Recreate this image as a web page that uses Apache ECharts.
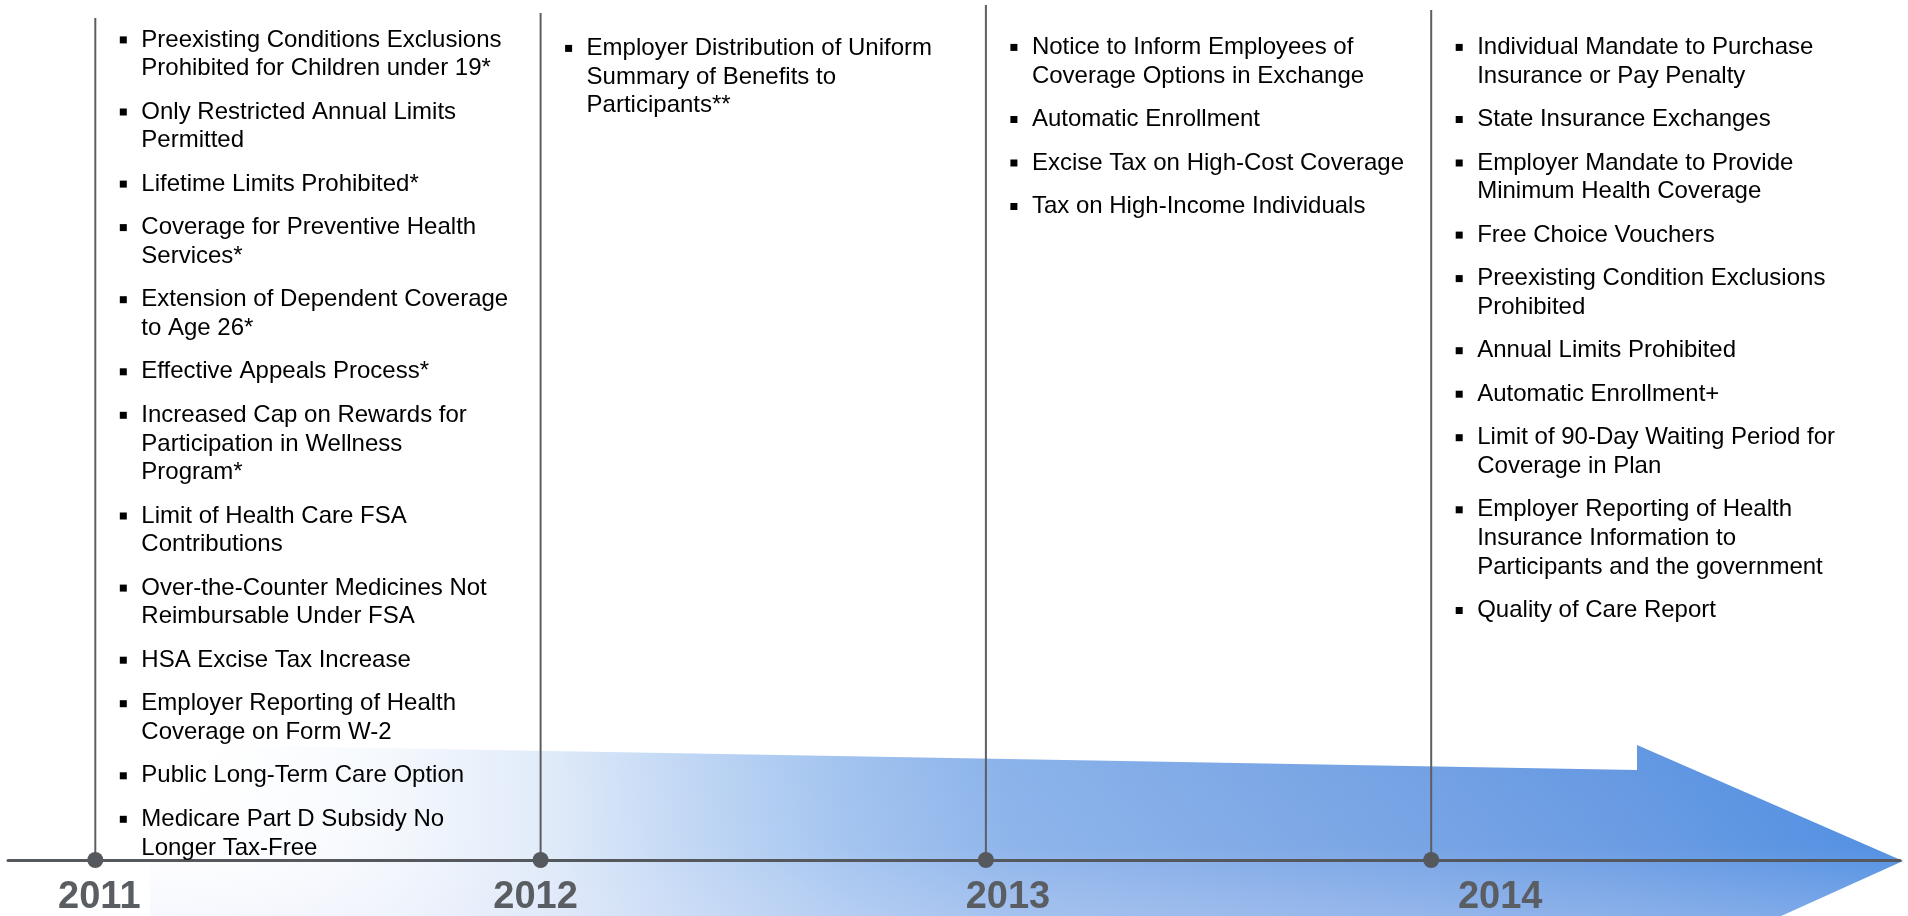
<!DOCTYPE html>
<html>
<head>
<meta charset="utf-8">
<script src="https://cdn.jsdelivr.net/npm/echarts@6/dist/echarts.min.js"></script>
<style>
html,body{margin:0;padding:0;background:#ffffff;}
#c{width:1908px;height:916px;}
</style>
</head>
<body>
<div id="c"></div>
<script>
// ---------------- data ----------------
const years = ['2011', '2012', '2013', '2014'];
const yearValues = [2011, 2012, 2013, 2014];

const provisions2011 = [
  'Preexisting Conditions Exclusions\nProhibited for Children under 19*',
  'Only Restricted Annual Limits\nPermitted',
  'Lifetime Limits Prohibited*',
  'Coverage for Preventive Health\nServices*',
  'Extension of Dependent Coverage\nto Age 26*',
  'Effective Appeals Process*',
  'Increased Cap on Rewards for\nParticipation in Wellness\nProgram*',
  'Limit of Health Care FSA\nContributions',
  'Over-the-Counter Medicines Not\nReimbursable Under FSA',
  'HSA Excise Tax Increase',
  'Employer Reporting of Health\nCoverage on Form W-2',
  'Public Long-Term Care Option',
  'Medicare Part D Subsidy No\nLonger Tax-Free'
];
const provisions2012 = [
  'Employer Distribution of Uniform\nSummary of Benefits to\nParticipants**'
];
const provisions2013 = [
  'Notice to Inform Employees of\nCoverage Options in Exchange',
  'Automatic Enrollment',
  'Excise Tax on High-Cost Coverage',
  'Tax on High-Income Individuals'
];
const provisions2014 = [
  'Individual Mandate to Purchase\nInsurance or Pay Penalty',
  'State Insurance Exchanges',
  'Employer Mandate to Provide\nMinimum Health Coverage',
  'Free Choice Vouchers',
  'Preexisting Condition Exclusions\nProhibited',
  'Annual Limits Prohibited',
  'Automatic Enrollment+',
  'Limit of 90-Day Waiting Period for\nCoverage in Plan',
  'Employer Reporting of Health\nInsurance Information to\nParticipants and the government',
  'Quality of Care Report'
];
const provisionsByYear = [provisions2011, provisions2012, provisions2013, provisions2014];

// ---------------- layout / style ----------------
const FONT = '"Liberation Sans", Arial, Helvetica, sans-serif';
const LINE_H = 28.6;
const ITEM_GAP = 43.5;
const TIMELINE_Y = 860;
const firstBaseline = [48.5, 57, 56, 56];
const lineTop = [18, 13, 5, 10];
const labelDx = [4, -5, 22, 69];

const chart = echarts.init(document.getElementById('c'), null, {renderer: 'canvas'});

function renderItem(params, api) {
  const i = params.dataIndex;
  const yr = api.value(0);
  const base = api.coord([yr, TIMELINE_Y]);
  const x = base[0];
  const yb = base[1];
  const top = api.coord([yr, lineTop[i]])[1];
  const children = [];
  children.push({
    type: 'line',
    shape: {x1: x, y1: top, x2: x, y2: yb},
    style: {stroke: '#5d5e62', lineWidth: 2}
  });
  let bl = firstBaseline[i];
  provisionsByYear[i].forEach(function (item, k) {
    if (k > 0) bl += ITEM_GAP;
    const lines = item.split('\n');
    const capMid = api.coord([yr, bl - 8.6])[1];
    children.push({
      type: 'rect',
      shape: {x: x + 24.5, y: capMid - 3.5, width: 7, height: 7},
      style: {fill: '#000000'}
    });
    lines.forEach(function (ln, j) {
      if (j > 0) bl += LINE_H;
      const cy = api.coord([yr, bl - 8.6])[1];
      children.push({
        type: 'text',
        x: x + 46,
        y: cy,
        style: {text: ln, font: '24px ' + FONT, fill: '#000000', align: 'left', verticalAlign: 'middle'}
      });
    });
  });
  children.push({
    type: 'circle',
    shape: {cx: x, cy: yb, r: 8},
    style: {fill: '#55585c'}
  });
  children.push({
    type: 'text',
    x: x + labelDx[i],
    y: yb + 37.5,
    style: {text: years[i], font: 'bold 38px ' + FONT, fill: '#5a5e62', align: 'center', verticalAlign: 'middle'}
  });
  return {type: 'group', children: children};
}

const arrowPts = [[150, 744], [1637, 770], [1637, 745], [1903, 861], [1781, 916], [1760, 930], [150, 930]];

const option = {
  animation: false,
  backgroundColor: '#ffffff',
  grid: {left: 8, right: 8, top: 0, bottom: 56, containLabel: false},
  xAxis: {
    type: 'value',
    position: 'bottom',
    min: 2010.80395,
    max: 2015.05277,
    z: 3,
    axisLine: {show: true, onZero: false, lineStyle: {color: '#55585c', width: 3}},
    axisTick: {show: false},
    axisLabel: {show: false},
    splitLine: {show: false}
  },
  yAxis: {
    type: 'value',
    min: 0,
    max: TIMELINE_Y,
    inverse: true,
    show: false,
    splitLine: {show: false}
  },
  graphic: {
    elements: [
      {
        type: 'polygon',
        z: -10,
        silent: true,
        shape: {points: arrowPts},
        style: {
          fill: {
            type: 'linear', x: 0, y: 0, x2: 1, y2: 0,
            colorStops: [
              {offset: 0, color: 'rgba(255,255,255,0)'},
              {offset: 0.14, color: '#f4f8fd'},
              {offset: 0.23, color: '#dfeaf9'},
              {offset: 0.31, color: '#bfd6f4'},
              {offset: 0.40, color: '#a0c2ef'},
              {offset: 0.49, color: '#8ab2ea'},
              {offset: 0.66, color: '#79a5e5'},
              {offset: 0.83, color: '#6699e2'},
              {offset: 1, color: '#4a8be1'}
            ]
          }
        }
      },
      {
        type: 'polygon',
        z: -9,
        silent: true,
        shape: {points: arrowPts},
        style: {
          fill: {
            type: 'linear', x: 0, y: 0, x2: 0, y2: 1,
            colorStops: [
              {offset: 0, color: 'rgba(255,255,255,0)'},
              {offset: 0.55, color: 'rgba(235,238,252,0.05)'},
              {offset: 1, color: 'rgba(225,230,250,0.35)'}
            ]
          }
        }
      }
    ]
  },
  series: [{
    type: 'custom',
    clip: false,
    z: 5,
    renderItem: renderItem,
    data: yearValues.map(function (v, i) { return [v, i]; })
  }]
};
chart.setOption(option);
</script>
</body>
</html>
